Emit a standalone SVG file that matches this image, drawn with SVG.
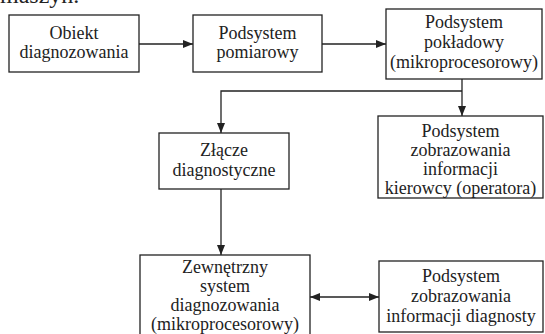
<svg xmlns="http://www.w3.org/2000/svg" width="545" height="334" viewBox="0 0 545 334">
<style>
.box{fill:#fff;stroke:#222;stroke-width:1.3}
.c{fill:none;stroke:#222;stroke-width:1.3}
</style>
<defs>
<marker id="ah" viewBox="0 0 10 8" refX="10" refY="4" markerWidth="10" markerHeight="8" markerUnits="userSpaceOnUse" orient="auto-start-reverse">
<path d="M0,0 L10,4 L0,8 z" fill="#222"/>
</marker>
</defs>
<rect width="545" height="334" fill="#fff"/>
<text x="0" y="3" font-family="Liberation Serif" font-size="24" fill="#222">maszyn.</text>
<g id="connectors">
<line class="c" x1="139" y1="44" x2="193" y2="44" marker-end="url(#ah)"/>
<line class="c" x1="322" y1="44" x2="386" y2="44" marker-end="url(#ah)"/>
<line class="c" x1="462" y1="79" x2="462" y2="116" marker-end="url(#ah)"/>
<polyline class="c" points="462,91 221,91 221,133" marker-end="url(#ah)"/>
<line class="c" x1="221" y1="189" x2="221" y2="255" marker-end="url(#ah)"/>
<line class="c" x1="310" y1="297" x2="379" y2="297" marker-start="url(#ah)" marker-end="url(#ah)"/>
</g>
<g font-family="Liberation Serif" font-size="18" fill="#222" text-anchor="middle">
<g id="n1">
<rect class="box" x="9" y="15" width="130" height="57"/>
<text x="74" y="39">Obiekt</text>
<text x="74" y="58">diagnozowania</text>
</g>
<g id="n2">
<rect class="box" x="193" y="15" width="129" height="57"/>
<text x="257.5" y="39">Podsystem</text>
<text x="257.5" y="58">pomiarowy</text>
</g>
<g id="n3">
<rect class="box" x="386" y="9" width="156" height="70"/>
<text x="464" y="28">Podsystem</text>
<text x="464" y="48">pokładowy</text>
<text x="464" y="68">(mikroprocesorowy)</text>
</g>
<g id="n4">
<rect class="box" x="159" y="133" width="130" height="56"/>
<text x="224" y="156">Złącze</text>
<text x="224" y="176">diagnostyczne</text>
</g>
<g id="n5">
<rect class="box" x="378" y="116" width="165" height="82"/>
<text x="460.5" y="137">Podsystem</text>
<text x="460.5" y="156">zobrazowania</text>
<text x="460.5" y="175">informacji</text>
<text x="460.5" y="194">kierowcy (operatora)</text>
</g>
<g id="n6">
<rect class="box" x="140" y="255" width="170" height="82"/>
<text x="225" y="273">Zewnętrzny</text>
<text x="225" y="292">system</text>
<text x="225" y="311">diagnozowania</text>
<text x="225" y="330">(mikroprocesorowy)</text>
</g>
<g id="n7">
<rect class="box" x="379" y="261" width="164" height="71"/>
<text x="461" y="282">Podsystem</text>
<text x="461" y="302">zobrazowania</text>
<text x="461" y="322">informacji diagnosty</text>
</g>
</g>
</svg>
